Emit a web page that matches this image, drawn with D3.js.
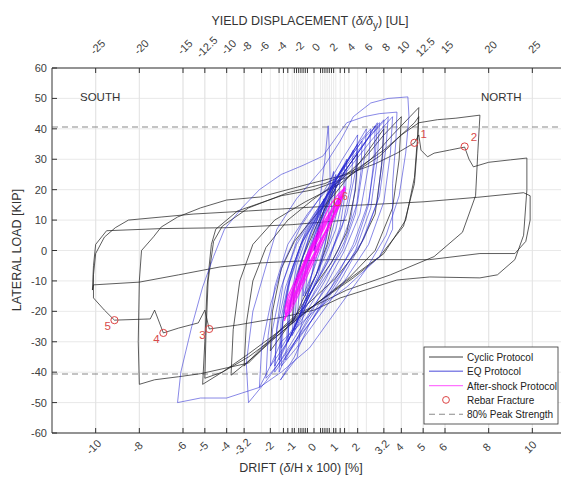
<!DOCTYPE html>
<html>
<head>
<meta charset="utf-8">
<script src="https://cdn.jsdelivr.net/npm/d3@7"></script>
<style>
  body { margin: 0; background: #fff; }
  text { font-family: "Liberation Sans", Arial, sans-serif; }
</style>
</head>
<body>
<div id="chart"></div>
<script>
// ---- data: [drift %, lateral load kip] ----
const driftTicks = [-10, -8, -6, -5, -4, -3.2, -2, -1, 0, 1, 2, 3.2, 4, 5, 6, 8, 10];
const yieldTicks = [-25, -20, -15, -12.5, -10, -8, -6, -4, -2, 0, 2, 4, 6, 8, 10, 12.5, 15, 20, 25];
const minorDrift = [-1.4, -1.2, -0.9, -0.7, -0.6, -0.5, -0.4, -0.3, 0.3, 0.4, 0.5, 0.6, 0.7, 0.9, 1.2, 1.4];
const loadTicks = [-60, -50, -40, -30, -20, -10, 0, 10, 20, 30, 40, 50, 60];
const peak80 = [40.6, -40.6];

const cyclicPath = [
  [0,0],[0.3,10],[0.6,16],[1.0,22],[0.9,12],[0.6,2],[0.1,-8],[-0.5,-16],[-1.0,-24],[-0.9,-12],[-0.5,-2],
  [0.1,8],[0.8,18],[1.4,26],[2.0,32],[1.9,20],[1.5,6],[0.8,-4],[0,-12],[-0.9,-22],[-1.5,-28],[-2.0,-33],
  [-1.9,-20],[-1.5,-6],[-0.9,3],[0,11],[1.0,19],[2.0,28],[2.7,35],[3.2,40],[3.1,28],[2.8,12],[2.0,0],
  [1.0,-9],[-0.2,-17],[-1.4,-25],[-2.4,-32],[-3.2,-38],[-3.1,-24],[-2.8,-10],[-2.2,1],[-1.2,10],[0,17],
  [1.2,23],[2.4,31],[3.2,38],[4.0,44],[3.9,30],[3.6,14],[2.8,0],[1.6,-9],[0.2,-17],[-1.2,-25],[-2.6,-34],
  [-3.8,-41],[-3.7,-26],[-3.4,-10],[-2.8,2],[-1.8,10],[-0.4,16],[1.2,22],[2.6,30],[3.6,38],[4.4,44],
  [4.8,47],[4.75,38],[4.6,24],[4.2,10],[3.2,-1],[1.8,-9],[0.2,-17],[-1.5,-26],[-3.0,-34],[-4.2,-40],
  [-5.1,-44],[-5.0,-30],[-4.9,-12],[-4.7,2],[-4.5,7],[-3.5,13],[-1.5,18],[0,20],[1.5,24],[3.0,31],
  [4.0,38],[4.6,42],[4.8,44],[4.75,36],[4.6,22],[4.1,8],[3.0,-2],[1.5,-10],[0,-18],[-1.5,-27],[-3.0,-35],
  [-4.2,-40],[-5.0,-42],[-4.95,-28],[-4.85,-10],[-4.6,3],[-4.2,8],[-3.0,14],[-1.2,19],[0.5,22],[2.0,27],
  [3.2,33],[4.0,38],[4.8,42],[5.65,43],[6.5,43.5],[7.6,44.5],[7.5,32],[7.4,18],[6.8,6],[5.5,-2],[3.5,-8],
  [1.5,-13],[-0.5,-20],[-1.5,-26],[-3,-37],[-5.2,-40.5],[-6.2,-41.5],[-7.3,-42.5],[-8.0,-44],[-8.05,-30],
  [-8.0,-10],[-7.9,0],[-7.35,4.5],[-7.0,7.7],[-6.25,11],[-5.2,14],[-4.0,16.6],[-2.45,17.6],[-0.17,22],
  [1.5,25],[2.8,28.5],[3.8,32],[4.6,35.4],[4.8,38],[4.9,33],[5.2,30.8],[5.5,32],[6.2,33],[6.9,34],[7.1,30],
  [7.3,27.5],[8,29],[9,29.8],[9.75,30.4],[9.75,20],[9.6,5],[9.2,-3],[8.4,-8],[7.6,-9],[5.3,-8.7],[3.8,-9.7],
  [1.2,-15.6],[0,-19.6],[-1.5,-22],[-3.5,-24.5],[-4.8,-25.8],[-5.0,-19.6],[-5.3,-23.8],[-6.2,-25.5],
  [-6.9,-27.1],[-7.3,-19.6],[-7.5,-22.5],[-9.14,-22.9],[-9.6,-19.6],[-10.1,-15.6],[-10.1,-8],[-10.0,-1],
  [-9.6,4.4],[-9.1,7.5],[-8.5,10],[-7,11],[-5.5,12],[-3,13],[0,14.3],[2.3,15],[5,16],[7.5,17.5],[9.6,19],
  [9.9,18],[9.9,10],[9.7,3],[9.2,-1],[7.6,-1],[5.3,-3],[0.7,-3],[-2.5,-4.1],[-4.3,-5.4],[-6.2,-8],
  [-8,-10.4],[-10.1,-11.3],[-10.15,-13],[-10.1,-5],[-10.0,2],[-9.5,6.5],[-7,7.2],[-4,7.5],[-1,8.5],[1.5,10]
];

const eqPath = [
  [0,0],[0.2,8],[0.45,17],[0.4,8],[0.2,0],[-0.1,-8],[-0.4,-15],[-0.3,-6],[-0.05,3],[0.3,12],[0.65,20],
  [0.9,26],[0.8,14],[0.5,2],[0.1,-8],[-0.4,-16],[-0.8,-24],[-0.65,-12],[-0.35,-2],[0.1,8],[0.3,18],
  [0.5,30],[0.65,41],[0.72,30],[0.75,20],[0.6,5],[0.2,-8],[-0.4,-18],[-1.0,-26],[-1.5,-32],[-1.4,-20],
  [-1.0,-6],[-0.4,6],[0.4,16],[1.2,26],[1.9,34],[2.4,40],[2.3,30],[2.0,16],[1.4,3],[0.5,-10],[-0.5,-22],
  [-1.3,-31],[-2.0,-38],[-1.9,-26],[-1.5,-12],[-0.8,2],[0.2,14],[1.2,24],[2.2,34],[2.9,42],[2.8,30],
  [2.5,16],[1.8,2],[0.8,-12],[-0.2,-24],[-0.9,-35],[-1.54,-42.6],[-0.76,-35],[-0.63,-26],[-0.3,-15],
  [0,-4],[0.15,7],[0.8,18],[1.6,28],[2.5,37],[3.4,44],[3.3,34],[3.0,18],[2.3,4],[1.2,-10],[0,-22],
  [-1.2,-33],[-2.2,-43],[-3.0,-50],[-3.1,-37],[-2.8,-20],[-2.15,-4],[-1.7,7],[-0.8,17],[0.4,27],[1.2,36],
  [1.8,44],[2.6,48.5],[3.4,50],[4.3,50.5],[4.35,44],[4.2,32],[3.9,18],[3.3,5],[2.4,-6],[1.2,-18],
  [-0.2,-32],[-1.5,-40],[-2.5,-45],[-4,-48.5],[-5.2,-48.5],[-6.25,-50],[-6.1,-40],[-5.6,-25],[-5.1,-12],
  [-4.6,-2],[-4.1,7],[-3.3,14],[-2.5,20],[-1.5,25],[-0.5,28],[0.4,31],[1.0,37],[1.5,42],[2.3,44],
  [3.0,45],[3.8,45.5],[3.75,36],[3.6,22],[3.6,7],[3.0,-2],[1.5,-12],[0,-20],[-1.5,-30],[-2.0,-38],
  [-2.5,-45],[-2.4,-32],[-2.0,-18],[-1.4,-4],[-0.6,8],[0.5,20],[1.3,30],[2.0,38],[1.9,26],[1.5,12],
  [0.8,0],[0,-12],[-0.7,-22],[-1.2,-30],[-1.1,-18],[-0.7,-6],[-0.1,6],[0.5,16],[1.0,25],[0.9,14],
  [0.5,4],[0,-6],[-0.5,-15],[-0.4,-6],[-0.1,2],[0.3,8]
];

const eqPath2 = [
  [0,0],[0.6,14],[1.3,26],[1.8,33],[1.7,22],[1.3,8],[0.6,-4],[-0.3,-16],[-1.0,-27],[-1.6,-36],[-1.5,-22],
  [-1.1,-8],[-0.5,4],[0.4,16],[1.4,28],[2.3,37],[3.0,42],[2.9,30],[2.6,14],[1.9,0],[0.9,-12],[-0.2,-24],
  [-1.2,-34],[-1.8,-40],[-1.7,-26],[-1.3,-12],[-0.6,2],[0.4,14],[1.5,26],[2.6,36],[3.6,44],[3.5,32],
  [3.2,16],[2.5,2],[1.4,-10],[0.2,-22],[-0.8,-32],[-1.5,-38],[-1.45,-24],[-1.1,-10],[-0.5,3],[0.5,16],
  [1.3,27],[2.0,35],[2.6,40],[2.5,28],[2.1,12],[1.4,0],[0.5,-12],[-0.4,-24],[-1.1,-33],[-1.3,-36],
  [-1.2,-22],[-0.8,-8],[-0.2,5],[0.6,17],[1.2,24],[1.1,14],[0.7,3],[0.1,-8],[-0.5,-18],[-0.9,-26],
  [-0.8,-14],[-0.4,-3],[0.2,8],[0.7,16]
];

const eqPath3 = [
  [0,0],[0.4,12],[0.9,22],[1.5,30],[1.45,20],[1.2,8],[0.7,-3],[0,-12],[-0.7,-22],[-1.2,-30],[-1.1,-18],
  [-0.8,-5],[-0.3,5],[0.3,14],[1.0,24],[1.7,31],[2.2,36],[2.15,26],[1.9,12],[1.3,0],[0.4,-10],[-0.5,-20],
  [-1.3,-31],[-1.8,-38],[-1.7,-25],[-1.4,-10],[-0.8,3],[0,12],[0.9,21],[1.8,30],[2.4,36],[2.8,41],
  [2.75,30],[2.5,15],[1.9,2],[1.0,-8],[0,-18],[-1.0,-30],[-1.7,-38],[-2.2,-42],[-2.1,-28],[-1.8,-12],
  [-1.2,2],[-0.3,12],[0.7,21],[1.7,30],[2.6,38],[3.2,43],[3.15,32],[2.9,16],[2.2,3],[1.2,-8],[0.2,-18],
  [-0.7,-28],[-1.3,-35],[-1.6,-40],[-1.5,-27],[-1.2,-12],[-0.6,2],[0.2,13],[1.0,23],[1.6,30],[2.0,35],
  [1.95,24],[1.7,11],[1.1,0],[0.3,-10],[-0.4,-19],[-1.0,-28],[-0.9,-16],[-0.6,-4],[-0.1,7],[0.6,18],
  [1.1,24],[1.4,28],[1.35,18],[1.0,7],[0.5,-2],[-0.1,-11],[-0.6,-20],[-0.5,-10],[-0.2,-1],[0.2,6]
];

const aftershockPath = [
  [0,0],[0.5,6],[0.9,12],[1.2,17],[1.35,20],[1.2,16],[0.85,11],[0.45,5],[0,-2],[-0.5,-9],[-0.9,-15],
  [-1.2,-20],[-1.3,-22],[-1.15,-17],[-0.8,-11],[-0.4,-5],[0.05,2],[0.5,8],[0.9,14],[1.25,19],[1.1,15],
  [0.75,9],[0.3,3],[-0.15,-4],[-0.6,-11],[-1.0,-17],[-1.25,-21],[-1.05,-15],[-0.7,-9],[-0.25,-2],
  [0.2,4],[0.65,10],[1.05,16],[1.4,21],[1.25,17],[0.9,12],[0.5,6],[0.05,-1],[-0.45,-8],[-0.85,-14],
  [-1.15,-19],[-1.35,-23],[-1.2,-18],[-0.85,-12],[-0.45,-6],[0,1],[0.45,7],[0.85,13],[1.15,18],
  [1.0,14],[0.65,8],[0.2,2],[-0.3,-6],[-0.75,-12],[-1.1,-18],[-0.95,-13],[-0.6,-7],[-0.15,0],[0.3,6],
  [0.75,12],[1.3,19],[1.15,15],[0.8,10],[0.35,4],[-0.1,-3],[-0.55,-10],[-0.95,-16],[-1.2,-20],
  [-1.0,-14],[-0.65,-8],[-0.2,-1],[0.25,5],[0.7,11],[1.1,17],[0.95,13],[0.6,7],[0.15,1],[-0.3,-5],
  [-0.7,-11],[-1.0,-16],[-0.85,-11],[-0.5,-5],[-0.05,2],[0.4,8],[0.8,13]
];

const aftershockPath2 = [
  [-1.36,-22.5],[-1.06,-20],[-0.74,-15],[-0.42,-10],[-0.1,-5],[0.23,0],[0.55,5],[0.87,10],[1.19,15],
  [1.35,18.5],[1.43,20.5],[1.25,19.5],[1.06,18],[0.74,15],[0.42,10],[0.1,5],[-0.23,0],[-0.55,-5],
  [-0.87,-10],[-1.19,-15],[-1.33,-19],[-1.3,-21],[-1.14,-20],[-0.82,-15],[-0.5,-10],[-0.18,-5],[0.15,0],
  [0.47,5],[0.79,10],[1.11,15],[1.31,18],[1.15,17],[0.94,15],[0.5,10],[0.17,5],[-0.15,0],[-0.47,-5],
  [-0.79,-10],[-1.11,-15],[-1.3,-19]
];

const fractureLabels = ["1", "2", "3", "4", "5", "6"];
const fractureDrift = [4.6, 6.9, -4.8, -6.9, -9.14, 1.07];
const fractureLoad = [35.4, 34.2, -25.8, -27.1, -22.9, 15.9];

const legendLabels = ["Cyclic Protocol", "EQ Protocol", "After-shock Protocol", "Rebar Fracture", "80% Peak Strength"];

// ---- layout ----
const W = 561, H = 480;
const margin = {top: 68, left: 52};
const width = 524, height = 365;
const axisColor = "#333";

const svg = d3.select("#chart")
  .append("svg")
  .attr("width", W)
  .attr("height", H);

const g = svg.append("g")
  .attr("transform", `translate(${margin.left}, ${margin.top})`);

const x = d3.scaleLinear().domain([-12, 12]).range([0, width]);
const y = d3.scaleLinear().domain([-60, 60]).range([height, 0]);

// grid
const grid = g.append("g").attr("stroke", "#e3e3e3").attr("stroke-width", 0.8);
grid.selectAll(".gx").data(driftTicks.concat(yieldTicks.map(d => d * 0.4)).concat(minorDrift))
  .enter().append("line")
  .attr("x1", d => x(d)).attr("x2", d => x(d))
  .attr("y1", 0).attr("y2", height);
grid.selectAll(".gy").data(loadTicks)
  .enter().append("line")
  .attr("x1", 0).attr("x2", width)
  .attr("y1", d => y(d)).attr("y2", d => y(d));

// 80% peak strength
g.selectAll(".peak").data(peak80)
  .enter().append("line")
  .attr("x1", 0).attr("x2", width)
  .attr("y1", d => y(d)).attr("y2", d => y(d))
  .attr("stroke", "#8a8a8a").attr("stroke-width", 1.1)
  .attr("stroke-dasharray", "6,4");

// curves
const line = d3.line()
  .x(d => x(d[0]))
  .y(d => y(d[1]));

g.append("path").datum(cyclicPath)
  .attr("d", line)
  .attr("fill", "none")
  .attr("stroke", "#1e1e1e").attr("stroke-opacity", 0.8)
  .attr("stroke-width", 0.9).attr("stroke-linejoin", "round");

[eqPath, eqPath2, eqPath3].forEach(p => {
  g.append("path").datum(p)
    .attr("d", line)
    .attr("fill", "none")
    .attr("stroke", "#2323d2").attr("stroke-opacity", 0.6)
    .attr("stroke-width", 0.9).attr("stroke-linejoin", "round");
});

[aftershockPath, aftershockPath2].forEach(p => {
  g.append("path").datum(p)
    .attr("d", line)
    .attr("fill", "none")
    .attr("stroke", "#ff00ff").attr("stroke-opacity", 0.8)
    .attr("stroke-width", 1.2).attr("stroke-linejoin", "round");
});

// rebar fractures
const labelOffset = [[6, -5], [6, -5], [-10, 10], [-10, 10], [-10, 10], [5, -2]];
fractureLabels.forEach((lab, i) => {
  g.append("circle")
    .attr("cx", x(fractureDrift[i])).attr("cy", y(fractureLoad[i]))
    .attr("r", 3.6)
    .attr("fill", "none").attr("stroke", "#dd4444").attr("stroke-width", 1);
  g.append("text")
    .attr("x", x(fractureDrift[i]) + labelOffset[i][0])
    .attr("y", y(fractureLoad[i]) + labelOffset[i][1])
    .attr("fill", "#d84a4a")
    .style("font-size", i === 5 ? "10px" : "11.5px")
    .text(lab);
});

// axes frame
g.append("line").attr("x1", 0).attr("x2", width).attr("y1", 0).attr("y2", 0).attr("stroke", axisColor);
g.append("line").attr("x1", 0).attr("x2", width).attr("y1", height).attr("y2", height).attr("stroke", axisColor);
g.append("line").attr("x1", 0).attr("x2", 0).attr("y1", 0).attr("y2", height).attr("stroke", axisColor);

// y axis ticks + labels
g.selectAll(".ytick").data(loadTicks).enter().append("line")
  .attr("x1", 0).attr("x2", 5)
  .attr("y1", d => y(d)).attr("y2", d => y(d))
  .attr("stroke", axisColor);
g.selectAll(".ylab").data(loadTicks).enter().append("text")
  .attr("x", -5).attr("y", d => y(d) + 4)
  .attr("text-anchor", "end")
  .attr("fill", "#404040")
  .style("font-size", "11px")
  .text(d => d);

// bottom: drift
g.selectAll(".btick").data(driftTicks.concat(minorDrift)).enter().append("line")
  .attr("x1", d => x(d)).attr("x2", d => x(d))
  .attr("y1", height).attr("y2", height - 5)
  .attr("stroke", axisColor);
g.selectAll(".blab").data(driftTicks).enter().append("text")
  .attr("transform", d => `translate(${x(d) - 2}, ${height + 14}) rotate(-45)`)
  .attr("text-anchor", "middle")
  .attr("dy", "0.35em")
  .attr("fill", "#404040")
  .style("font-size", "11px")
  .text(d => d);

// top: yield displacement
g.selectAll(".ttick").data(yieldTicks.map(d => d * 0.4).concat(minorDrift)).enter().append("line")
  .attr("x1", d => x(d)).attr("x2", d => x(d))
  .attr("y1", 0).attr("y2", 5)
  .attr("stroke", axisColor);
g.selectAll(".tlab").data(yieldTicks).enter().append("text")
  .attr("transform", d => `translate(${x(d * 0.4) + 2}, -21) rotate(-45)`)
  .attr("text-anchor", "middle")
  .attr("dy", "0.35em")
  .attr("fill", "#404040")
  .style("font-size", "11px")
  .text(d => d);

// axis titles
const topTitle = svg.append("text")
  .attr("x", 310).attr("y", 25)
  .attr("text-anchor", "middle")
  .attr("fill", "#333")
  .style("font-size", "12.5px");
topTitle.append("tspan").text("YIELD DISPLACEMENT (");
topTitle.append("tspan").style("font-style", "italic").text("δ/δ");
topTitle.append("tspan").attr("dy", 4).style("font-size", "10px").text("y");
topTitle.append("tspan").attr("dy", -4).text(") [UL]");

const bottomTitle = svg.append("text")
  .attr("x", 301).attr("y", 472)
  .attr("text-anchor", "middle")
  .attr("fill", "#333")
  .style("font-size", "12.5px");
bottomTitle.append("tspan").text("DRIFT (");
bottomTitle.append("tspan").style("font-style", "italic").text("δ");
bottomTitle.append("tspan").text("/H x 100) [%]");

svg.append("text")
  .attr("transform", "translate(21, 250) rotate(-90)")
  .attr("text-anchor", "middle")
  .attr("fill", "#333")
  .style("font-size", "12.5px")
  .text("LATERAL LOAD [KIP]");

svg.append("text").attr("x", 80).attr("y", 101)
  .attr("fill", "#333").style("font-size", "11.5px").text("SOUTH");
svg.append("text").attr("x", 481).attr("y", 101)
  .attr("fill", "#333").style("font-size", "11.5px").text("NORTH");

// legend
const lg = svg.append("g").attr("transform", "translate(424, 347)");
lg.append("rect")
  .attr("width", 134).attr("height", 77)
  .attr("fill", "#fff").attr("stroke", "#333").attr("stroke-width", 0.8);
const rowY = i => 10 + i * 14.3;
const sample = [
  {stroke: "#1e1e1e", op: 0.85, w: 1, dash: null},
  {stroke: "#2323d2", op: 0.55, w: 1.6, dash: null},
  {stroke: "#ff00ff", op: 0.55, w: 1.4, dash: null},
  null,
  {stroke: "#8a8a8a", op: 1, w: 1.1, dash: "6,4"}
];
legendLabels.forEach((lab, i) => {
  const s = sample[i];
  if (s) {
    lg.append("line")
      .attr("x1", 5).attr("x2", 39)
      .attr("y1", rowY(i)).attr("y2", rowY(i))
      .attr("stroke", s.stroke).attr("stroke-opacity", s.op)
      .attr("stroke-width", s.w)
      .attr("stroke-dasharray", s.dash);
  } else {
    lg.append("circle")
      .attr("cx", 22).attr("cy", rowY(i)).attr("r", 3.4)
      .attr("fill", "none").attr("stroke", "#dd4444");
  }
  lg.append("text")
    .attr("x", 43).attr("y", rowY(i) + 4)
    .attr("fill", "#222")
    .style("font-size", "10px")
    .text(lab);
});
</script>
</body>
</html>
